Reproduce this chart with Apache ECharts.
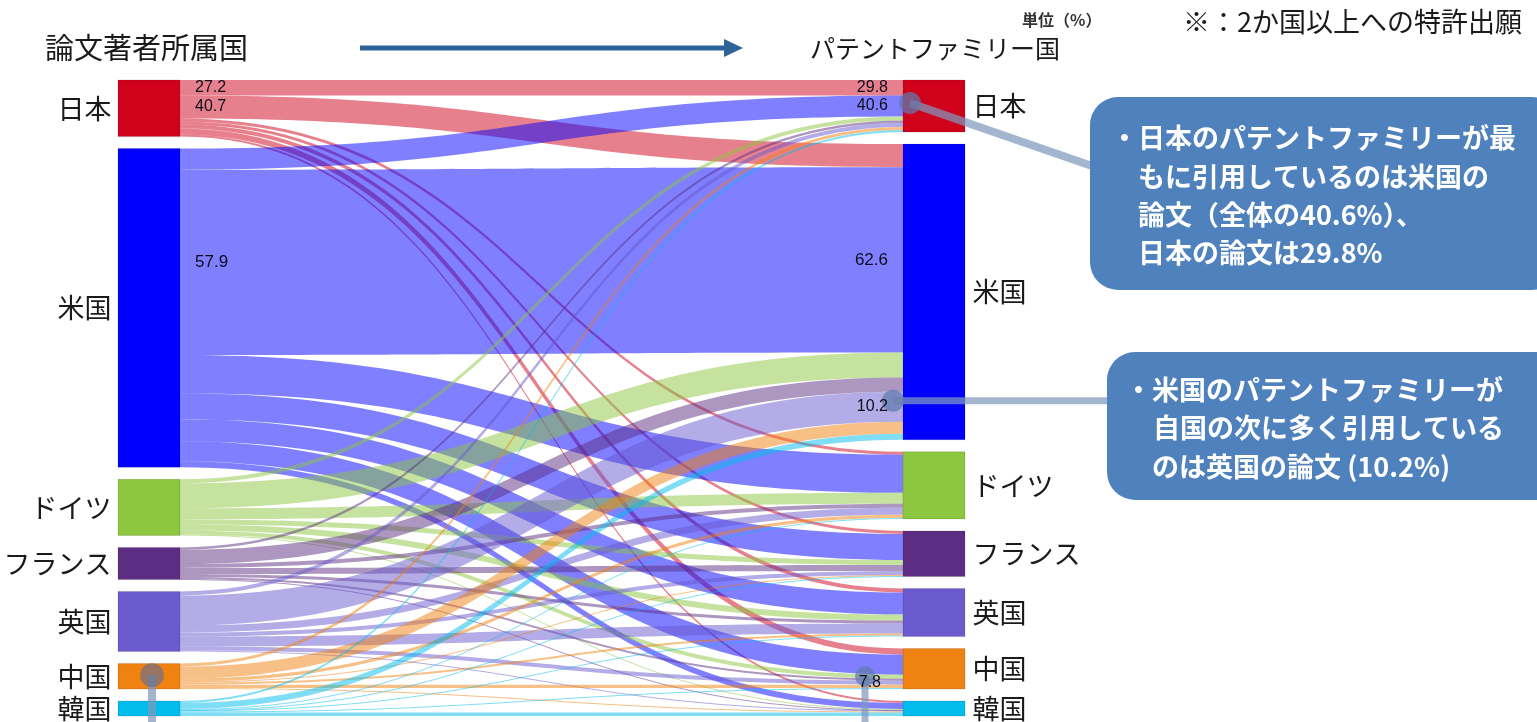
<!DOCTYPE html>
<html>
<head>
<meta charset="utf-8">
<script src="https://cdn.jsdelivr.net/npm/echarts@6/dist/echarts.min.js"></script>
<style>
html, body { margin: 0; padding: 0; background: #fff; }
#main { width: 1537px; height: 722px; }
</style>
</head>
<body>
<div id="main"></div>
<script>
// 国名（論文側・パテントファミリー側で共通）
const countries = ['日本', '米国', 'ドイツ', 'フランス', '英国', '中国', '韓国'];
const nodeColors = ['#d0021b', '#0000ff', '#8dc63f', '#5c2d82', '#6a5acd', '#ef8210', '#00bdee'];

// 論文著者所属国 -> パテントファミリー国（図から読み取った概算値）
// 各配列の並びは countries と同じ
const fromJapan   = [15.5, 23,  3,  3,   4,  6,   2];
const fromUS      = [21,  185, 38, 26,  22, 20,   6];
const fromGermany = [4,    25, 11,  5,   6,  4,   1];
const fromFrance  = [2.5,  14,  4,  6,   3,  2,   0.5];
const fromUK      = [4,    30,  7,  4,  10,  4,   1];
const fromChina   = [3,    12,  3,  1,   2,  3.3, 1];
const fromKorea   = [2,     6,  1,  0.5, 1,  1,   3.5];
const flows = [fromJapan, fromUS, fromGermany, fromFrance, fromUK, fromChina, fromKorea];

// 図中の数値ラベル [論文国, 特許国, 表示側, 値]
const valueLabels = [
  ['日本', '日本', 'L', '27.2'],
  ['日本', '米国', 'L', '40.7'],
  ['米国', '米国', 'L', '57.9'],
  ['日本', '日本', 'R', '29.8'],
  ['米国', '日本', 'R', '40.6'],
  ['米国', '米国', 'R', '62.6'],
  ['英国', '米国', 'R', '10.2'],
  ['中国', '中国', 'R', '7.8']
];

var chartDom = document.getElementById('main');
var myChart = echarts.init(chartDom);

let nodes = [];
countries.forEach((c, i) => {
  nodes.push({ name: 'L_' + c, itemStyle: { color: nodeColors[i] }, label: { position: 'left', distance: 6 } });
});
countries.forEach((c, i) => {
  nodes.push({ name: 'R_' + c, itemStyle: { color: nodeColors[i] }, label: { position: 'right', distance: 7 } });
});

let links = [];
flows.forEach((row, i) => {
  row.forEach((v, j) => {
    links.push({ source: 'L_' + countries[i], target: 'R_' + countries[j], value: v });
  });
});

const jpFont = '"Noto Sans CJK JP", sans-serif';
const boxFont = 'bold 27px "Noto Sans CJK JP", sans-serif';

// 見出し・吹き出しなど
let staticGraphic = [
  { type: 'text', z: 100, style: { text: '論文著者所属国', x: 45, y: 48, fontSize: 29, fontFamily: jpFont, fill: '#1a1a1a', textVerticalAlign: 'middle' } },
  { type: 'line', z: 100, shape: { x1: 360, y1: 48, x2: 726, y2: 48 }, style: { stroke: '#2e6399', lineWidth: 5 } },
  { type: 'polygon', z: 100, shape: { points: [[724, 39], [743, 48], [724, 57]] }, style: { fill: '#2e6399' } },
  { type: 'text', z: 100, style: { text: 'パテントファミリー国', x: 810, y: 48, fontSize: 25, fontFamily: jpFont, fill: '#1a1a1a', textVerticalAlign: 'middle' } },
  { type: 'text', z: 100, style: { text: '単位（%）', x: 1022, y: 20, fontSize: 16, fontWeight: 'bold', fontFamily: jpFont, fill: '#333', textVerticalAlign: 'middle' } },
  { type: 'text', z: 100, style: { text: '※：2か国以上への特許出願', x: 1183, y: 22, fontSize: 27, fontFamily: jpFont, fill: '#1a1a1a', textVerticalAlign: 'middle' } },
  // 吹き出し1
  { type: 'rect', z: 102, shape: { x: 1090, y: 97, width: 470, height: 193, r: 28 }, style: { fill: '#4f81bd' } },
  { type: 'text', z: 103, style: { text: '・日本のパテントファミリーが最', x: 1111, y: 138, font: boxFont, fill: '#fff', textVerticalAlign: 'middle' } },
  { type: 'text', z: 103, style: { text: 'もに引用しているのは米国の', x: 1138, y: 177, font: boxFont, fill: '#fff', textVerticalAlign: 'middle' } },
  { type: 'text', z: 103, style: { text: '論文（全体の40.6%）、', x: 1138, y: 215, font: boxFont, fill: '#fff', textVerticalAlign: 'middle' } },
  { type: 'text', z: 103, style: { text: '日本の論文は29.8%', x: 1138, y: 253, font: boxFont, fill: '#fff', textVerticalAlign: 'middle' } },
  // 吹き出し2
  { type: 'rect', z: 102, shape: { x: 1107, y: 352, width: 460, height: 148, r: 28 }, style: { fill: '#4f81bd' } },
  { type: 'text', z: 103, style: { text: '・米国のパテントファミリーが', x: 1125, y: 390, font: boxFont, fill: '#fff', textVerticalAlign: 'middle' } },
  { type: 'text', z: 103, style: { text: '自国の次に多く引用している', x: 1153, y: 428, font: boxFont, fill: '#fff', textVerticalAlign: 'middle' } },
  { type: 'text', z: 103, style: { text: 'のは英国の論文 (10.2%)', x: 1152, y: 467, font: boxFont, fill: '#fff', textVerticalAlign: 'middle' } }
];

var option = {
  backgroundColor: '#fff',
  animation: false,
  series: [
    {
      type: 'sankey',
      left: 118,
      right: 572,
      top: 80,
      bottom: 6,
      nodeWidth: 62,
      nodeGap: 12,
      layoutIterations: 0,
      draggable: false,
      data: nodes,
      links: links,
      label: {
        color: '#1a1a1a',
        fontSize: 27,
        fontFamily: jpFont,
        formatter: (p) => p.name.slice(2)
      },
      itemStyle: { borderWidth: 1, borderColor: 'rgba(0,0,0,0.12)' },
      lineStyle: { color: 'source', opacity: 0.5, curveness: 0.5 },
      emphasis: { focus: 'none' }
    }
  ],
  graphic: staticGraphic
};

myChart.setOption(option);

// sankey のレイアウト結果から数値ラベルと引き出し線の位置を決める
try {
  const seriesModel = myChart.getModel().getSeriesByIndex(0);
  const graph = seriesModel.getGraph();
  const box = seriesModel.layoutInfo;
  const ox = box.x, oy = box.y;

  const edgePos = (s, t) => {
    const e = graph.getEdge('L_' + s, 'R_' + t);
    const el = e.getLayout();
    const n1 = e.node1.getLayout();
    const n2 = e.node2.getLayout();
    return {
      lx: ox + n1.x + n1.dx, ly: oy + n1.y + el.sy + el.dy / 2,
      rx: ox + n2.x, ry: oy + n2.y + el.ty + el.dy / 2
    };
  };

  let extra = [];
  valueLabels.forEach(([s, t, side, txt]) => {
    const p = edgePos(s, t);
    const big = (txt === '57.9' || txt === '62.6');
    const small = (txt === '7.8');
    extra.push({
      type: 'text', z: 104,
      style: {
        text: txt,
        x: side === 'L' ? p.lx + 15 : p.rx - (small ? 22 : 15),
        y: (side === 'L' ? p.ly : p.ry) - (small ? 4 : 0),
        textAlign: side === 'L' ? 'left' : 'right',
        textVerticalAlign: 'middle',
        fontSize: big ? 17 : 16,
        fontFamily: '"Liberation Sans Narrow", "Liberation Sans", Arial, sans-serif',
        fill: '#0d0d1a'
      }
    });
  });

  const connector = 'rgba(128,152,188,0.72)';
  const dot = 'rgba(96,122,172,0.72)';

  // 日本（パテントファミリー）への米国論文
  const a = edgePos('米国', '日本');
  extra.push({ type: 'line', z: 101, shape: { x1: a.rx + 7, y1: a.ry - 3, x2: 1092, y2: 166 }, style: { stroke: connector, lineWidth: 8 } });
  extra.push({ type: 'circle', z: 101, shape: { cx: a.rx + 7, cy: a.ry - 3, r: 11 }, style: { fill: dot } });

  // 米国（パテントファミリー）への英国論文
  const b = edgePos('英国', '米国');
  extra.push({ type: 'line', z: 101, shape: { x1: b.rx - 10, y1: b.ry - 6, x2: 1110, y2: b.ry - 6 }, style: { stroke: connector, lineWidth: 7 } });
  extra.push({ type: 'circle', z: 101, shape: { cx: b.rx - 10, cy: b.ry - 6, r: 11 }, style: { fill: dot } });

  // 中国（論文側ノード）
  const cn = graph.getNodeById('L_中国').getLayout();
  const cx = ox + cn.x + cn.dx / 2 + 3, cy = oy + cn.y + cn.dy / 2 - 1;
  extra.push({ type: 'line', z: 101, shape: { x1: cx, y1: cy, x2: cx, y2: 730 }, style: { stroke: connector, lineWidth: 8 } });
  extra.push({ type: 'circle', z: 101, shape: { cx: cx, cy: cy, r: 12 }, style: { fill: 'rgba(96,110,150,0.62)' } });

  // 中国（パテントファミリー）への中国論文
  const d = edgePos('中国', '中国');
  extra.push({ type: 'line', z: 101, shape: { x1: d.rx - 38, y1: d.ry - 10, x2: d.rx - 38, y2: 730 }, style: { stroke: connector, lineWidth: 7 } });
  extra.push({ type: 'circle', z: 101, shape: { cx: d.rx - 38, cy: d.ry - 10, r: 10 }, style: { fill: dot } });

  myChart.setOption({ graphic: staticGraphic.concat(extra) });
} catch (err) {
  console.log(err);
}

window.onresize = () => {
  myChart.resize();
};
</script>
</body>
</html>
